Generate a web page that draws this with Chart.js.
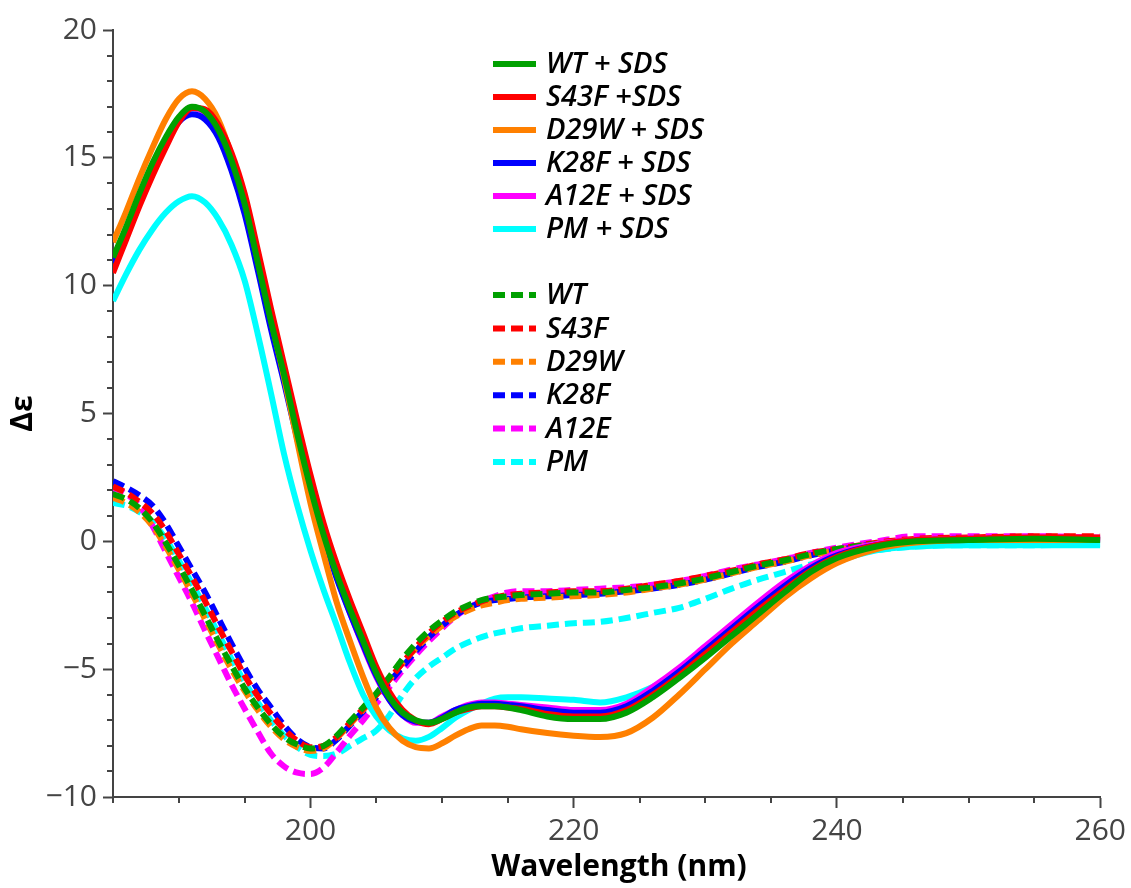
<!DOCTYPE html>
<html>
<head>
<meta charset="utf-8">
<script src="https://cdn.jsdelivr.net/npm/chart.js@4.4.1/dist/chart.umd.min.js"></script>
<style>
html,body{margin:0;padding:0;background:#fff;}
canvas{display:block;}
</style>
</head>
<body>
<canvas id="c" width="1131" height="888"></canvas>
<script>
// Wavelength (nm)
const wavelength = [185,186,187,188,189,190,191,192,193,194,195,196,197,198,199,200,201,202,203,204,205,206,207,208,209,210,211,212,213,214,215,216,218,220,222,224,226,228,230,232,234,236,238,240,243,246,250,255,260];

// Solid: + SDS
const wtSDS   = [11.1,12.3,13.6,14.8,15.8,16.6,17.0,16.8,16.1,14.9,13.2,10.9,8.6,6.5,4.2,2.1,0.25,-1.3,-2.65,-3.9,-5.15,-6.1,-6.7,-7.0,-7.1,-6.95,-6.7,-6.5,-6.45,-6.45,-6.5,-6.6,-6.85,-6.95,-6.95,-6.7,-6.1,-5.35,-4.55,-3.7,-2.85,-2.0,-1.2,-0.65,-0.2,0.0,0.05,0.1,0.05];
const s43fSDS = [10.5,11.8,13.1,14.3,15.4,16.4,16.95,16.9,16.3,15.2,13.6,11.4,9.1,6.9,4.7,2.6,0.7,-0.9,-2.3,-3.6,-4.9,-5.9,-6.6,-7.0,-7.15,-6.95,-6.7,-6.55,-6.45,-6.45,-6.5,-6.55,-6.75,-6.85,-6.85,-6.6,-6.0,-5.25,-4.4,-3.55,-2.7,-1.9,-1.15,-0.6,-0.15,0.05,0.1,0.15,0.15];
const d29wSDS = [11.7,12.9,14.2,15.4,16.5,17.3,17.6,17.3,16.5,15.1,13.3,11.0,8.7,6.4,3.9,1.5,-0.5,-2.4,-3.9,-5.3,-6.5,-7.3,-7.8,-8.05,-8.1,-7.9,-7.6,-7.35,-7.2,-7.2,-7.25,-7.35,-7.5,-7.6,-7.65,-7.5,-6.9,-6.0,-5.0,-4.0,-3.1,-2.2,-1.45,-0.85,-0.3,-0.05,0.05,0.05,0.05];
const k28fSDS = [10.9,12.1,13.4,14.6,15.6,16.4,16.7,16.5,15.8,14.5,12.8,10.6,8.3,6.2,4.0,1.9,0.1,-1.45,-2.8,-4.05,-5.25,-6.2,-6.8,-7.05,-7.1,-6.9,-6.6,-6.45,-6.35,-6.35,-6.4,-6.45,-6.6,-6.7,-6.7,-6.45,-5.85,-5.1,-4.25,-3.4,-2.55,-1.75,-1.05,-0.55,-0.15,0.0,0.05,0.05,0.05];
const a12eSDS = [11.0,12.2,13.5,14.7,15.7,16.5,16.95,16.75,16.0,14.8,13.1,10.8,8.5,6.3,4.1,2.0,0.2,-1.4,-2.8,-4.1,-5.3,-6.2,-6.8,-7.1,-7.1,-6.85,-6.6,-6.4,-6.3,-6.3,-6.35,-6.4,-6.5,-6.6,-6.6,-6.35,-5.7,-4.95,-4.1,-3.25,-2.4,-1.6,-0.95,-0.45,-0.1,0.05,0.1,0.1,0.1];
const pmSDS   = [9.4,10.45,11.4,12.2,12.85,13.3,13.5,13.25,12.6,11.6,10.2,8.1,5.8,3.4,1.4,-0.35,-1.9,-3.3,-4.75,-6.0,-6.85,-7.4,-7.7,-7.8,-7.65,-7.3,-6.9,-6.6,-6.35,-6.15,-6.1,-6.1,-6.15,-6.2,-6.3,-6.1,-5.7,-5.1,-4.3,-3.5,-2.7,-2.0,-1.3,-0.8,-0.35,-0.2,-0.15,-0.15,-0.15];

// Dashed: buffer
const wt   = [1.85,1.65,1.3,0.75,-0.05,-0.95,-1.9,-2.9,-3.9,-4.85,-5.75,-6.5,-7.15,-7.65,-7.95,-8.1,-8.0,-7.6,-7.05,-6.5,-5.95,-5.3,-4.6,-4.0,-3.5,-3.1,-2.75,-2.5,-2.3,-2.2,-2.15,-2.1,-2.05,-2.0,-2.0,-1.9,-1.8,-1.65,-1.45,-1.2,-0.95,-0.75,-0.5,-0.3,-0.1,0.0,0.05,0.1,0.05];
const s43f = [2.15,1.9,1.55,1.1,0.4,-0.5,-1.4,-2.35,-3.35,-4.3,-5.25,-6.05,-6.75,-7.35,-7.8,-8.05,-8.0,-7.65,-7.1,-6.55,-6.0,-5.4,-4.75,-4.15,-3.6,-3.15,-2.8,-2.55,-2.35,-2.2,-2.1,-2.05,-2.0,-1.95,-1.95,-1.85,-1.7,-1.55,-1.35,-1.15,-0.9,-0.7,-0.45,-0.3,-0.05,0.1,0.15,0.2,0.2];
const d29w = [1.7,1.5,1.15,0.6,-0.2,-1.1,-2.05,-3.05,-4.05,-5.0,-5.85,-6.6,-7.25,-7.75,-8.05,-8.2,-8.1,-7.7,-7.15,-6.6,-6.0,-5.4,-4.75,-4.2,-3.7,-3.3,-2.95,-2.7,-2.5,-2.4,-2.3,-2.25,-2.2,-2.15,-2.1,-2.0,-1.85,-1.7,-1.5,-1.25,-1.0,-0.8,-0.55,-0.35,-0.1,0.0,0.05,0.05,0.0];
const k28f = [2.35,2.1,1.8,1.4,0.7,-0.2,-1.1,-2.0,-3.0,-4.0,-4.95,-5.8,-6.5,-7.2,-7.75,-8.05,-8.1,-7.75,-7.2,-6.65,-6.1,-5.5,-4.9,-4.3,-3.75,-3.3,-2.9,-2.6,-2.4,-2.3,-2.25,-2.2,-2.15,-2.1,-2.05,-1.95,-1.85,-1.7,-1.5,-1.25,-1.0,-0.8,-0.55,-0.35,-0.1,0.05,0.1,0.1,0.1];
const a12e = [2.1,1.85,1.4,0.6,-0.4,-1.4,-2.4,-3.5,-4.55,-5.6,-6.55,-7.45,-8.3,-8.8,-9.05,-9.1,-8.85,-8.25,-7.6,-7.0,-6.35,-5.7,-5.05,-4.45,-3.9,-3.4,-2.95,-2.6,-2.35,-2.15,-2.0,-1.95,-1.95,-1.9,-1.85,-1.8,-1.7,-1.55,-1.35,-1.1,-0.9,-0.7,-0.45,-0.25,0.0,0.2,0.2,0.2,0.15];
const pm   = [1.5,1.4,1.15,0.75,0.1,-0.75,-1.65,-2.6,-3.6,-4.6,-5.5,-6.3,-7.0,-7.6,-8.05,-8.35,-8.4,-8.3,-8.0,-7.7,-7.4,-6.8,-6.0,-5.35,-4.9,-4.55,-4.2,-3.95,-3.75,-3.6,-3.5,-3.4,-3.3,-3.2,-3.15,-3.0,-2.8,-2.6,-2.25,-1.85,-1.5,-1.2,-0.9,-0.65,-0.35,-0.2,-0.15,-0.15,-0.1];

const labelsSDS = ['WT + SDS','S43F +SDS','D29W + SDS','K28F + SDS','A12E + SDS','PM + SDS'];
const labelsBuf = ['WT','S43F','D29W','K28F','A12E','PM'];
const colors = ['#00a000','#ff0000','#ff8000','#0000ff','#ff00ff','#00ffff'];
const xTitle = 'Wavelength (nm)';
const yTitle = 'Δε';

// Axis settings
const xMin = 185, xMax = 260, xMajor = 20, xMinor = 5;
const yMin = -10, yMax = 20, yMajor = 5, yMinor = 1;

const solidSeries = [wtSDS, s43fSDS, d29wSDS, k28fSDS, a12eSDS, pmSDS];
const dashedSeries = [wt, s43f, d29w, k28f, a12e, pm];

function toPts(arr){ return arr.map((v,i)=>({x:wavelength[i], y:v})); }

const datasets = [];
solidSeries.forEach((s,i)=>datasets.push({
  label: labelsSDS[i], data: toPts(s), borderColor: colors[i], backgroundColor: colors[i],
  borderWidth: 6, pointRadius: 0, cubicInterpolationMode: 'monotone', fill:false, _dash:false
}));
dashedSeries.forEach((s,i)=>datasets.push({
  label: labelsBuf[i], data: toPts(s), borderColor: colors[i], backgroundColor: colors[i],
  borderWidth: 6, borderDash:[12,6], pointRadius: 0, cubicInterpolationMode: 'monotone', fill:false, _dash:true
}));

const AXIS = '#444444';
const FONT = '"Open Sans", "Noto Sans", sans-serif';

const minorTicks = {
  id:'minorTicks',
  afterDraw(chart){
    const ctx = chart.ctx, xs = chart.scales.x, ys = chart.scales.y;
    const ca = chart.chartArea;
    ctx.save();
    ctx.strokeStyle = AXIS; ctx.lineWidth = 2;
    ctx.beginPath();
    for(let v=yMin; v<=yMax; v+=yMinor){
      if (v % yMajor === 0) continue;
      const py = Math.round(ys.getPixelForValue(v));
      ctx.moveTo(ca.left-6, py); ctx.lineTo(ca.left, py);
    }
    for(let v=xMin; v<=xMax; v+=xMinor){
      if (v % xMajor === 0) continue;
      const px = Math.round(xs.getPixelForValue(v));
      ctx.moveTo(px, ca.bottom); ctx.lineTo(px, ca.bottom+6);
    }
    ctx.stroke();
    // x axis title
    ctx.fillStyle = '#000';
    ctx.font = 'bold 30px ' + FONT;
    ctx.textAlign = 'center';
    ctx.textBaseline = 'middle';
    ctx.fillText(xTitle, 619, 867);
    ctx.restore();
  }
};

const legendPlugin = {
  id:'customLegend',
  afterDraw(chart){
    const ctx = chart.ctx;
    ctx.save();
    ctx.font = 'italic 600 29px ' + FONT;
    ctx.textBaseline = 'middle';
    ctx.fillStyle = '#000';
    chart.data.datasets.forEach((ds,i)=>{
      const row = ds._dash ? i-6 : i;
      const y = ds._dash ? 295 + row*33.4 : 64 + row*33;
      ctx.strokeStyle = ds.borderColor;
      ctx.lineWidth = 6;
      ctx.setLineDash(ds._dash ? [12,6] : []);
      ctx.beginPath(); ctx.moveTo(493,y); ctx.lineTo(536,y); ctx.stroke();
      ctx.setLineDash([]);
      ctx.fillText(ds.label, 546, y+1);
    });
    ctx.restore();
  }
};

new Chart(document.getElementById('c'), {
  type:'line',
  data:{ datasets },
  options:{
    responsive:false, animation:false, devicePixelRatio:1,
    layout:{ padding:{ left:0, right:30, top:30, bottom:0 } },
    plugins:{ legend:{display:false}, tooltip:{enabled:false} },
    scales:{
      x:{
        type:'linear', min:xMin, max:xMax,
        afterFit(s){ s.height = 91; },
        grid:{ display:true, drawOnChartArea:false, drawTicks:true, tickLength:11, tickColor:AXIS, tickWidth:2 },
        border:{ display:true, color:AXIS, width:2 },
        ticks:{ stepSize:xMajor, includeBounds:false, color:AXIS, padding:5, maxRotation:0,
                font:{ family:FONT, size:30 } }
      },
      y:{
        type:'linear', min:yMin, max:yMax,
        afterFit(s){ s.width = 113; },
        grid:{ display:true, drawOnChartArea:false, drawTicks:true, tickLength:10, tickColor:AXIS, tickWidth:2 },
        border:{ display:true, color:AXIS, width:2 },
        ticks:{ stepSize:yMajor, color:AXIS, padding:6,
                font:{ family:FONT, size:30 },
                callback:(v)=> v < 0 ? '\u2212' + Math.abs(v) : String(v) },
        title:{ display:true, text:yTitle, color:'#000',
                font:{ family:FONT, size:30, weight:'bold' }, padding:{top:5,bottom:0} }
      }
    }
  },
  plugins:[minorTicks, legendPlugin]
});
</script>
</body>
</html>
